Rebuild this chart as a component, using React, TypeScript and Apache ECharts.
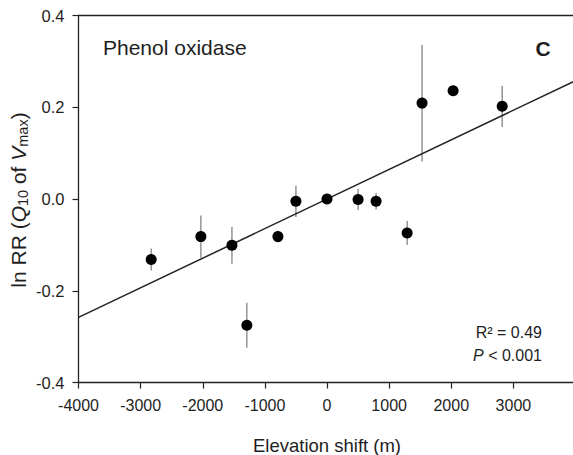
import React, { useEffect, useRef } from "react";
import * as echarts from "echarts";

// Data
const elevationShift = [-2830, -2030, -1530, -1290, -790, -500, 0, 500, 790, 1290, 1530, 2030, 2820];
const lnRR = [-0.132, -0.082, -0.101, -0.275, -0.082, -0.005, 0.0, -0.001, -0.005, -0.074, 0.209, 0.236, 0.202];
const errors = [0.024, 0.046, 0.04, 0.049, 0.013, 0.034, 0, 0.023, 0.018, 0.026, 0.127, 0, 0.045];
const fitX = [-4000, 4000];
const fitY = [-0.258, 0.258];

const FONT = "'Liberation Sans', Arial, Helvetica, sans-serif";
const TXT = "#1e1e1e";

export default function App() {
  const ref = useRef<HTMLDivElement>(null);
  useEffect(() => {
    document.body.style.margin = "0";
    const chart = echarts.init(ref.current!, null, { renderer: "svg" });
    const errData = elevationShift
      .map((x, i) => [x, lnRR[i] - errors[i], lnRR[i] + errors[i], errors[i]])
      .filter((d) => d[3] > 0);
    chart.setOption({
      animation: false,
      textStyle: { fontFamily: FONT },
      grid: {
        left: 78.5,
        right: -2.5,
        top: 15.5,
        bottom: 72.5,
        containLabel: false,
        outerBoundsMode: "none",
      },
      xAxis: [
        {
          type: "value",
          min: -4000,
          max: 4000,
          interval: 1000,
          splitLine: { show: false },
          axisLine: { show: true, onZero: false, lineStyle: { color: "#222", width: 1.3 } },
          axisTick: { show: true, inside: false, length: 6, lineStyle: { color: "#222", width: 1.2 } },
          axisLabel: {
            color: TXT,
            fontSize: 16,
            fontFamily: FONT,
            margin: 15,
            formatter: (v: number) => (v === 4000 ? "" : String(v)),
          },
          name: "Elevation shift (m)",
          nameLocation: "middle",
          nameGap: 53,
          nameTextStyle: { color: TXT, fontSize: 18.5, fontFamily: FONT },
        },
        {
          type: "value",
          position: "top",
          min: -4000,
          max: 4000,
          interval: 1000,
          splitLine: { show: false },
          axisLine: { show: true, onZero: false, lineStyle: { color: "#222", width: 1.3 } },
          axisTick: { show: false },
          axisLabel: { show: false },
        },
      ],
      yAxis: {
        type: "value",
        min: -0.4,
        max: 0.4,
        interval: 0.2,
        splitLine: { show: false },
        axisLine: { show: true, onZero: false, lineStyle: { color: "#222", width: 1.3 } },
        axisTick: { show: true, inside: false, length: 6, lineStyle: { color: "#222", width: 1.2 } },
        axisLabel: {
          color: TXT,
          fontSize: 16.5,
          fontFamily: FONT,
          margin: 14,
          formatter: (v: number) => v.toFixed(1),
        },
      },
      graphic: [
        {
          type: "text",
          left: 103,
          top: 37,
          style: { text: "Phenol oxidase", fontSize: 21, fontFamily: FONT, fill: TXT },
        },
        {
          type: "text",
          x: 543,
          y: 48,
          style: {
            text: "C",
            fontSize: 21,
            fontWeight: "bold",
            fontFamily: FONT,
            fill: TXT,
            align: "center",
            verticalAlign: "middle",
          },
        },
        {
          type: "text",
          x: 542,
          y: 332,
          style: {
            text: "R² = 0.49",
            fontSize: 16,
            fontFamily: FONT,
            fill: TXT,
            align: "right",
            verticalAlign: "middle",
          },
        },
        {
          type: "text",
          x: 542,
          y: 355,
          style: {
            text: "{i|P}{n| < 0.001}",
            fontSize: 16,
            fontFamily: FONT,
            fill: TXT,
            align: "right",
            verticalAlign: "middle",
            rich: {
              i: { fontSize: 16, fontStyle: "italic", fontFamily: FONT, fill: TXT },
              n: { fontSize: 16, fontFamily: FONT, fill: TXT },
            },
          },
        },
        {
          type: "text",
          x: 18,
          y: 200,
          rotation: Math.PI / 2,
          style: {
            text: "{n|ln RR (}{i|Q}{s|10}{n| of }{i|V}{s|max}{n|)}",
            fontFamily: FONT,
            fill: TXT,
            align: "center",
            verticalAlign: "middle",
            rich: {
              n: { fontSize: 21, lineHeight: 25, fontFamily: FONT, fill: TXT },
              i: { fontSize: 21, lineHeight: 25, fontStyle: "italic", fontFamily: FONT, fill: TXT },
              s: { fontSize: 14.5, lineHeight: 14, verticalAlign: "bottom", fontFamily: FONT, fill: TXT },
            },
          },
        },
      ],
      series: [
        {
          type: "custom",
          xAxisIndex: 0,
          data: errData,
          z: 1,
          renderItem: (params: any, api: any) => {
            const x = api.value(0);
            const p1 = api.coord([x, api.value(1)]);
            const p2 = api.coord([x, api.value(2)]);
            return {
              type: "line",
              shape: { x1: p1[0], y1: p1[1], x2: p2[0], y2: p2[1] },
              style: { stroke: "#7a7a7a", lineWidth: 1.2 },
            };
          },
        },
        {
          type: "line",
          xAxisIndex: 0,
          data: fitX.map((x, i) => [x, fitY[i]]),
          showSymbol: false,
          symbol: "none",
          lineStyle: { color: "#222", width: 1.5 },
          z: 2,
        },
        {
          type: "scatter",
          xAxisIndex: 0,
          data: elevationShift.map((x, i) => [x, lnRR[i]]),
          symbol: "circle",
          symbolSize: 11,
          itemStyle: { color: "#000", opacity: 1 },
          z: 3,
        },
      ],
    });
    return () => chart.dispose();
  }, []);
  return (
    <div
      ref={ref}
      style={{ position: "absolute", left: 0, top: 0, width: 573, height: 455, overflow: "hidden" }}
    />
  );
}
